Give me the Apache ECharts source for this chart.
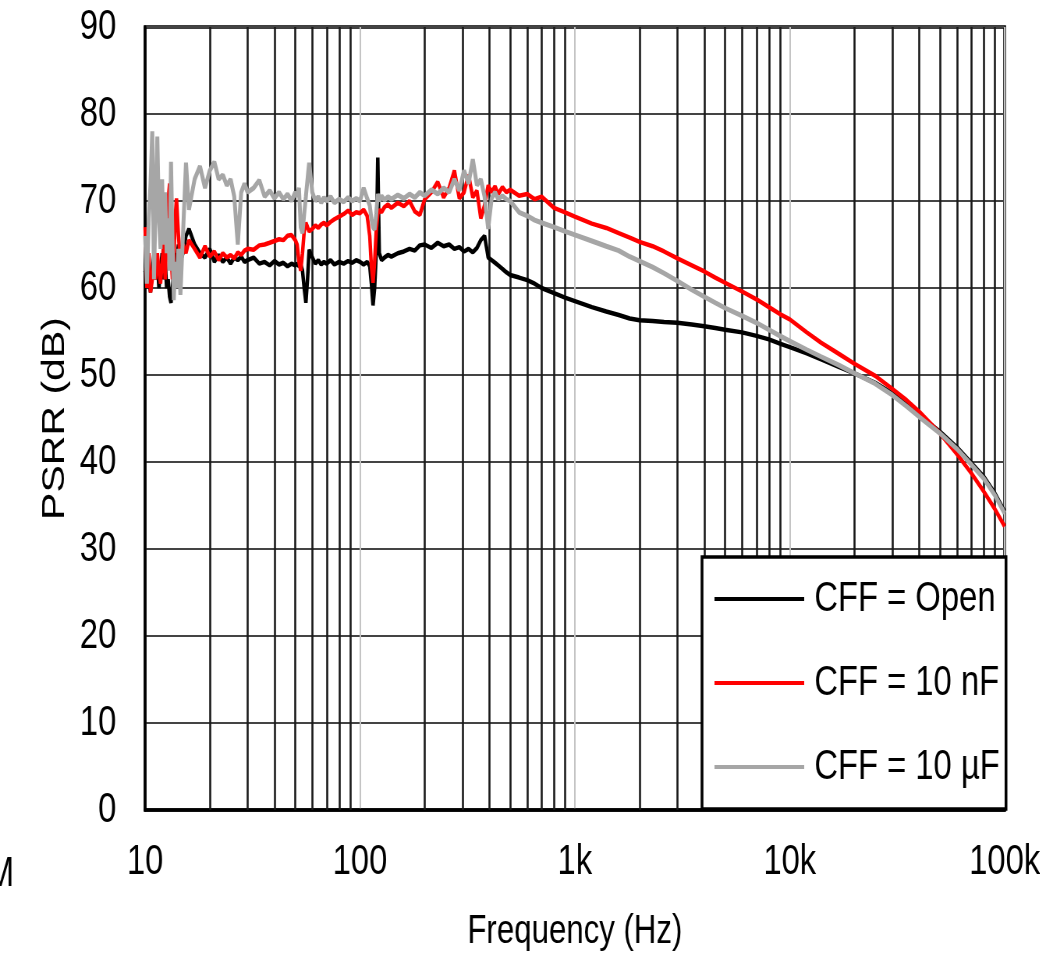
<!DOCTYPE html>
<html>
<head>
<meta charset="utf-8">
<script src="https://cdn.jsdelivr.net/npm/echarts@6/dist/echarts.min.js"></script>
<style>
  html, body { margin: 0; padding: 0; background: #fff; overflow: hidden; }
  /* the reference is a horizontally squeezed figure: draw wide, then squeeze */
  #chart { width: 1333px; height: 953px; transform: scaleX(0.78); transform-origin: 0 0; }
</style>
</head>
<body>
<div id="chart"></div>
<script>
// frequency points (Hz), shared by all three curves
const freq = [
  10, 10.2, 10.4, 10.6, 10.8, 11, 11.2, 11.4, 11.6, 11.8, 12, 12.2, 12.4, 12.6, 12.8, 13, 13.2, 13.4, 13.6, 13.8, 14, 14.3, 14.6, 15, 15.5, 16,
  17, 18, 19, 20, 21, 22, 23, 24, 25, 26, 27, 28, 29, 30, 32, 34, 36, 38, 40, 42, 44, 46, 48, 50,
  51, 52, 53, 54, 55, 56, 57, 58, 60, 62, 64, 66, 68, 70, 73, 76, 80, 84, 88, 92, 96, 100,
  104, 108, 111, 113, 115, 117, 119, 121, 123, 126, 130, 135, 140, 150, 160, 170, 180, 190, 200, 215,
  230, 245, 260, 275, 290, 305, 320, 335, 350, 365, 380, 395, 410, 425, 440, 460, 480, 500,
  550, 600, 650, 700, 800, 900, 1000, 1200, 1400, 1600, 1800, 2000, 2300, 2600, 3000, 3500, 4000, 4500, 5000,
  6000, 7000, 8000, 9000, 10000, 12000, 14000, 17000, 20000, 25000, 30000, 35000, 40000,
  50000, 60000, 70000, 80000, 90000, 100000
];

// PSRR (dB), CFF = Open
const cffOpen = [
  62, 60, 61, 59.5, 62, 64, 61, 63, 60, 62, 64, 61, 63, 60, 61, 59, 58.3, 60, 62, 64, 63, 65, 63, 64, 66, 66.8,
  65, 64, 63.5, 64.5, 63, 63.8, 63, 63.5, 62.8, 63.5, 63.2, 63.6, 63, 63.2, 63.5, 62.8, 63, 62.6, 63.1, 62.7, 62.9, 62.5, 62.8, 62.6,
  62.8, 62.5, 62.7, 62, 60, 58.3, 61, 64.4, 63.5, 62.8, 63.2, 62.7, 63, 62.8, 63.2, 62.7, 63, 62.8, 63.1, 62.9, 63.2, 63,
  62.7, 63, 62.5, 60.5, 58, 60, 64, 75, 64, 63.2, 63.5, 63.8, 63.6, 64, 64.2, 64.5, 64.3, 64.9, 65, 64.6,
  65.2, 64.8, 65, 64.5, 64.7, 64.2, 64.5, 64.1, 64.6, 65.5, 66, 63.5, 63.2, 62.9, 62.6, 62.2, 61.8, 61.5,
  61.2, 60.9, 60.5, 60, 59.4, 58.9, 58.5, 57.8, 57.3, 56.9, 56.5, 56.3, 56.2, 56.1, 56, 55.8, 55.6, 55.4, 55.2,
  54.9, 54.5, 54.1, 53.6, 53.2, 52.5, 51.8, 50.9, 50.2, 49.1, 47.9, 46.6, 45.4,
  43.5, 41.7, 39.9, 38.3, 36.4, 34.3
];

// PSRR (dB), CFF = 10 nF
const cff10n = [
  67, 60, 64, 59.5, 61, 63, 61, 64, 62, 60.5, 63, 65, 61, 66, 70, 72, 64, 61, 63, 68, 70.3, 66, 63, 65, 64, 65.5,
  64.5, 63.5, 64.8, 63.6, 64.2, 63.2, 64, 63.5, 63.8, 63.4, 64.1, 63.8, 64.3, 64.5, 64.4, 64.9, 65, 65.2, 65.4, 65.6, 65.5, 66, 66.1, 65.5,
  65, 63, 62, 64, 66.5, 67.5, 67, 66.5, 66.8, 67.2, 66.9, 67.3, 67.5, 67.2, 67.6, 67.9, 68.2, 68.5, 68.9, 68.4, 68.7, 68.6,
  69, 68.3, 66, 62.5, 60.6, 63, 66.5, 68.5, 69, 68.7, 69.3, 69.6, 69.2, 69.8, 69.4, 70, 68.8, 68.4, 70.2, 71,
  72.2, 70.4, 71.5, 73.5, 70.3, 71, 73, 70.4, 71.2, 68, 69.5, 71.8, 71, 71.7, 70.8, 71.6, 71, 71.3,
  70.6, 70.8, 70.2, 70.5, 69.2, 68.7, 68.2, 67.4, 66.9, 66.3, 65.8, 65.3, 64.8, 64.2, 63.4, 62.6, 61.9, 61.2, 60.6,
  59.6, 58.7, 57.8, 57, 56.4, 54.9, 53.7, 52.4, 51.3, 49.9, 48.4, 47.1, 45.8,
  43.3, 40.9, 38.7, 36.6, 34.6, 32.6
];

// PSRR (dB), CFF = 10 uF
const cff10u = [
  66, 60.5, 68, 72, 78, 61, 70, 77.4, 68, 64.5, 72.5, 65, 71, 64, 68, 62, 74.5, 66, 58.6, 63, 60, 64.5, 59.2, 66, 74.4, 69,
  72.5, 74, 71.5, 73.5, 74.5, 72.5, 73, 71.8, 72.5, 70.5, 65, 71, 72, 71, 71.5, 72.4, 70.5, 71.2, 70.3, 71, 70.2, 70.8, 70, 71,
  70.5, 71.5, 67, 66.3, 68.5, 70.5, 72.5, 74.4, 71, 70, 70.5, 69.8, 70.4, 70, 70.5, 69.8, 70.2, 69.9, 70.4, 70, 70.3, 70,
  71.5, 70.3, 69.5, 68, 67, 66.7, 68.5, 70.8, 70, 70.6, 70.1, 70.5, 70.2, 70.7, 70.3, 70.8, 70.4, 71, 70.6, 71.3,
  70.8, 71.5, 71, 72.5, 71.2, 73.5, 72, 74.8, 71.8, 72.5, 70.5, 66.8, 70.3, 71, 70.2, 70.6, 70.2, 70,
  68.7, 68.3, 67.8, 67.5, 67, 66.5, 66.1, 65.4, 64.8, 64.3, 63.6, 63.1, 62.4, 61.7, 60.8, 59.8, 59, 58.3, 57.7,
  56.8, 56, 55.2, 54.5, 53.9, 52.9, 52.1, 51.1, 50.2, 49, 47.7, 46.4, 45.2,
  43.3, 41.5, 39.7, 38.1, 36.2, 34.1
];

const seriesNames = ["CFF = Open", "CFF = 10 nF", "CFF = 10 µF"];
const xTickLabels = ["10", "100", "1k", "10k", "100k"];
// minor grid lines 2..9 of every decade
const minorGrid = [
  20, 30, 40, 50, 60, 70, 80, 90,
  200, 300, 400, 500, 600, 700, 800, 900,
  2000, 3000, 4000, 5000, 6000, 7000, 8000, 9000,
  20000, 30000, 40000, 50000, 60000, 70000, 80000, 90000
];

const font = '"Liberation Sans", Arial, sans-serif';

function toPairs(values) {
  return freq.map((f, i) => [f, values[i]]);
}

const chart = echarts.init(document.getElementById("chart"), null, { renderer: "canvas" });

const options = {
  animation: false,
  backgroundColor: "#fff",
  grid: {
    left: 186,
    right: 45,
    top: 27,
    bottom: 143,
    outerBoundsMode: "none",
    containLabel: false,
    show: true,
    borderColor: "#000",
    borderWidth: 3.5,
  },
  xAxis: {
    type: "log",
    logBase: 10,
    min: 10,
    max: 100000,
    splitNumber: 4,
    name: "Frequency (Hz)",
    nameLocation: "middle",
    nameGap: 102,
    nameTextStyle: { fontFamily: font, fontSize: 40, color: "#000" },
    axisLine: { show: true, lineStyle: { color: "#000", width: 3.5 } },
    axisTick: { show: false },
    axisLabel: {
      fontFamily: font,
      fontSize: 42,
      color: "#000",
      margin: 31,
      formatter: (v) => xTickLabels[Math.round(Math.log10(v)) - 1],
    },
    splitLine: { show: true, lineStyle: { color: "#c4c4c4", width: 2 } },
  },
  yAxis: {
    type: "value",
    min: 0,
    max: 90,
    interval: 10,
    name: "PSRR (dB)",
    nameLocation: "middle",
    nameRotate: 90,
    nameGap: 75,
    nameTextStyle: { fontFamily: font, fontSize: 41, color: "#000" },
    axisLine: { show: true, lineStyle: { color: "#000", width: 3.5 } },
    axisTick: { show: false },
    axisLabel: { fontFamily: font, fontSize: 42, color: "#000", margin: 37 },
    splitLine: { show: true, lineStyle: { color: "#444", width: 2 } },
  },
  legend: {
    orient: "vertical",
    left: 900,
    top: 557,
    padding: [20, 8, 20, 16],
    itemGap: 40,
    itemWidth: 115,
    itemHeight: 4,
    icon: "rect",
    backgroundColor: "#fff",
    borderColor: "#000",
    borderWidth: 3.5,
    borderRadius: 0,
    textStyle: { fontFamily: font, fontSize: 42, color: "#000", lineHeight: 44, padding: [0, 0, 0, 8] },
    data: seriesNames,
  },
  graphic: [
    {
      type: "text",
      x: -17,
      y: 853,
      style: { text: "M", font: "42px " + font, fill: "#000" },
    },
  ],
  series: [
    {
      name: seriesNames[0],
      type: "line",
      symbol: "none",
      data: toPairs(cffOpen),
      lineStyle: { color: "#000", width: 4.5 },
      itemStyle: { color: "#000" },
      markLine: {
        silent: true,
        z: 1,
        symbol: ["none", "none"],
        label: { show: false },
        lineStyle: { color: "#1a1a1a", width: 2.6, type: "solid" },
        data: minorGrid.map((f) => ({ xAxis: f })),
      },
    },
    {
      name: seriesNames[1],
      type: "line",
      symbol: "none",
      data: toPairs(cff10n),
      lineStyle: { color: "#ff0000", width: 4.5 },
      itemStyle: { color: "#ff0000" },
    },
    {
      name: seriesNames[2],
      type: "line",
      symbol: "none",
      data: toPairs(cff10u),
      lineStyle: { color: "#a6a6a6", width: 5 },
      itemStyle: { color: "#a6a6a6" },
    },
  ],
};

chart.setOption(options);
</script>
</body>
</html>
